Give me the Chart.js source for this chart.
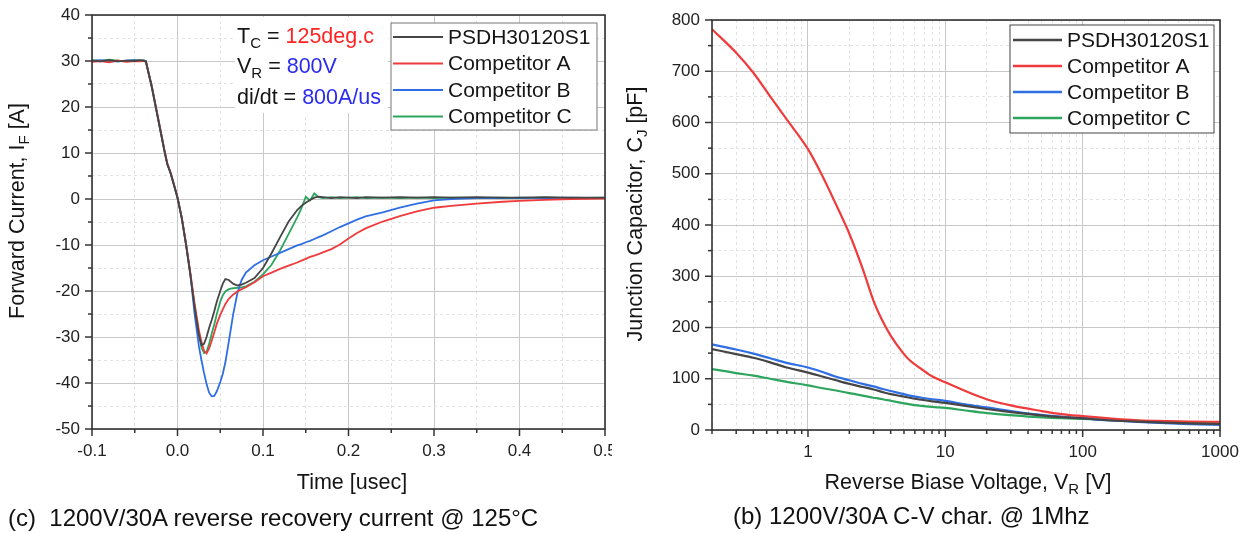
<!DOCTYPE html>
<html>
<head>
<meta charset="utf-8">
<script src="https://cdn.jsdelivr.net/npm/chart.js@4.4.1/dist/chart.umd.min.js"></script>
<style>
  html, body { margin: 0; padding: 0; background: #fff; width: 1244px; height: 533px; overflow: hidden; }
  #left { position: absolute; left: 0; top: 0; width: 612px; height: 533px; overflow: hidden; }
  #right { position: absolute; left: 612px; top: 0; width: 632px; height: 533px; overflow: hidden; }
  .cap { position: absolute; font-family: 'Liberation Sans', Arial, sans-serif; font-size: 24px;
         line-height: 28px; color: #111; white-space: pre; }
</style>
</head>
<body>
<div id="left"><canvas id="d1" width="640" height="533"></canvas></div>
<div id="right"><canvas id="d2" width="660" height="533"></canvas></div>
<div class="cap" style="left:8px; top:504px">(c)  1200V/30A reverse recovery current @ 125°C</div>
<div class="cap" style="left:733px; top:502px">(b) 1200V/30A C-V char. @ 1Mhz</div>

<script>
const FONT = "'Liberation Sans', Arial, sans-serif";

// --- reverse recovery current (left) ---
const timeUs = [-0.1, -0.09, -0.08, -0.07, -0.06, -0.05, -0.045, -0.04, -0.037, -0.03,
  -0.025, -0.02, -0.015, -0.012, -0.008, -0.004, 0, 0.005, 0.01, 0.015,
  0.02, 0.025, 0.028, 0.031, 0.034, 0.037, 0.04, 0.043, 0.046, 0.05,
  0.053, 0.056, 0.06, 0.065, 0.07, 0.075, 0.08, 0.09, 0.1, 0.11,
  0.12, 0.13, 0.14, 0.145, 0.15, 0.155, 0.16, 0.165, 0.17, 0.18,
  0.19, 0.2, 0.21, 0.22, 0.24, 0.26, 0.28, 0.3, 0.32, 0.35,
  0.38, 0.4, 0.43, 0.46, 0.5];
const irrPSDH = [30.1, 29.9, 30.2, 29.9, 30.1, 30.0, 30.2, 30.1, 29.9, 24.3,
  19.6, 14.9, 10.2, 7.6, 5.6, 3.0, 0.3, -4.2, -10.0, -16.5,
  -23.6, -29.5, -31.8, -31.5, -30.0, -28.0, -26.3, -24.4, -22.3, -20.0,
  -18.4, -17.4, -17.6, -18.4, -18.8, -18.6, -18.2, -17.2, -15.0, -11.8,
  -8.3, -4.9, -2.4, -1.5, -0.8, -0.2, 0.3, 0.5, 0.4, 0.2,
  0.4, 0.3, 0.2, 0.4, 0.3, 0.4, 0.3, 0.4, 0.3, 0.4,
  0.3, 0.3, 0.4, 0.3, 0.3];
const irrCompA = [29.8, 30.0, 29.7, 30.1, 29.8, 30.0, 29.9, 30.0, 29.8, 24.4,
  19.8, 15.1, 10.4, 7.8, 5.7, 3.1, 0.4, -4.0, -9.7, -16.0,
  -22.8, -28.5, -31.0, -33.0, -33.6, -32.5, -30.8, -29.0, -27.1, -25.2,
  -24.0, -22.8, -21.7, -20.8, -20.1, -19.6, -19.2, -18.1, -16.8, -16.0,
  -15.2, -14.5, -13.8, -13.4, -13.0, -12.6, -12.3, -12.0, -11.6, -10.9,
  -9.9, -8.6, -7.4, -6.4, -4.9, -3.7, -2.7, -1.9, -1.5, -1.0,
  -0.6, -0.4, -0.2, 0.0, 0.1];
const irrCompB = [30.0, 30.2, 30.0, 29.9, 30.1, 30.2, 30.0, 30.1, 30.0, 24.5,
  19.7, 15.0, 10.3, 7.7, 5.6, 3.0, 0.2, -4.1, -9.8, -16.2,
  -25.0, -32.0, -35.0, -37.8, -40.2, -42.1, -42.9, -42.8, -41.8, -39.8,
  -38.0, -35.5, -31.0, -25.2, -20.5, -17.6, -16.0, -14.4, -13.3, -12.5,
  -11.7, -10.9, -10.1, -9.8, -9.4, -9.1, -8.7, -8.3, -7.9, -7.0,
  -6.1, -5.3, -4.5, -3.8, -2.9, -1.9, -1.0, -0.3, 0.0, 0.2,
  0.2, 0.3, 0.2, 0.3, 0.2];
const irrCompC = [30.2, 30.0, 30.3, 30.1, 30.0, 30.2, 30.1, 30.2, 30.0, 24.2,
  19.5, 14.8, 10.1, 7.6, 5.5, 2.9, 0.2, -4.2, -9.9, -16.3,
  -23.2, -29.5, -32.3, -33.5, -33.2, -31.5, -29.3, -27.3, -25.0, -22.3,
  -20.9, -20.1, -19.6, -19.4, -19.3, -19.2, -19.0, -18.0, -16.4, -14.3,
  -11.2, -7.6, -4.0, -2.0, 0.5, -0.3, 1.2, 0.4, 0.2, 0.4,
  0.2, 0.3, 0.4, 0.2, 0.3, 0.2, 0.3, 0.2, 0.3, 0.2,
  0.3, 0.2, 0.3, 0.2, 0.3];
const timeTicks = [-0.1, 0, 0.1, 0.2, 0.3, 0.4, 0.5];
const currentTicks = [-50, -40, -30, -20, -10, 0, 10, 20, 30, 40];

// --- C-V characteristic (right) ---
const biasV = [0.2, 0.3, 0.4, 0.53, 0.7, 1, 1.25, 1.6, 2, 2.5, 3, 3.5, 4, 4.8, 5.5,
  6.7, 8, 10, 14, 20, 30, 48, 70, 100, 150, 250, 400, 600, 1000];
const capPSDH = [158, 148, 141, 132, 122, 112, 105, 97, 90, 84, 79, 74, 70, 66, 63,
  59, 56, 53, 47, 41, 35, 29, 25, 22.5, 19, 16.5, 14.5, 13, 11.7];
const capCompA = [782, 736, 697, 651, 606, 548, 500, 440, 383, 315, 252, 212, 184, 154, 136,
  119, 105, 93, 76, 60, 48, 38, 31, 27, 23, 19, 17.5, 16.5, 16];
const capCompB = [167, 157, 149, 140, 131, 122, 114, 104, 97, 90, 85, 80, 76, 71, 67,
  63, 60, 57, 50, 44, 37, 30, 26, 23, 19, 16, 13.5, 11.5, 10];
const capCompC = [119, 111, 106, 100, 94, 87, 82, 77, 72, 67, 63, 60, 57, 53, 50,
  47, 45, 43, 38, 33, 29, 25, 23, 21.5, 20, 18, 16.5, 15.5, 14.5];
const voltTicks = [1, 10, 100, 1000];
const capTicks = [0, 100, 200, 300, 400, 500, 600, 700, 800];

const seriesNames = ['PSDH30120S1', 'Competitor A', 'Competitor B', 'Competitor C'];
const seriesColors = ['#454545', '#ef3b3b', '#2f6fe3', '#2ea55c'];

Chart.defaults.font.family = FONT;
Chart.defaults.font.size = 17;
Chart.defaults.color = '#222';

// major ticks plus a minor one half way
function withMinor(majors) {
  const out = [];
  majors.forEach(function(v, i) {
    out.push({ value: v, major: true });
    if (i < majors.length - 1) out.push({ value: (v + majors[i + 1]) / 2, major: false });
  });
  return out;
}

function logTicks(decades, min, max) {
  const out = [];
  [decades[0] / 10].concat(decades).forEach(function(d) {
    for (let k = 1; k < 10; k++) {
      const v = +(d * k).toPrecision(3);
      if (v >= min - 1e-9 && v <= max + 1e-9) out.push({ value: v, major: k === 1 });
    }
  });
  return out;
}

const gridOpts = {
  color: function(c) { return c.tick && c.tick.major ? '#c8c8c8' : '#e2e2e2'; },
  lineWidth: 1,
  drawTicks: false
};
const borderOpts = {
  display: false,
  dash: function(c) { return c.tick && !c.tick.major ? [3, 3] : []; }
};

function drawRich(ctx, parts, x, y, size, align, rotate) {
  const sub = Math.round(size * 0.68);
  const widths = parts.map(function(p) {
    ctx.font = (p.sub ? sub : size) + 'px ' + FONT;
    return ctx.measureText(p.text).width;
  });
  const total = widths.reduce(function(s, w) { return s + w; }, 0);
  ctx.save();
  ctx.translate(x, y);
  if (rotate) ctx.rotate(-Math.PI / 2);
  let cx = align === 'center' ? -total / 2 : 0;
  ctx.textBaseline = 'middle';
  ctx.textAlign = 'left';
  parts.forEach(function(p, i) {
    ctx.font = (p.sub ? sub : size) + 'px ' + FONT;
    ctx.fillStyle = p.color || '#151515';
    ctx.fillText(p.text, cx, p.sub ? size * 0.33 : 0);
    cx += widths[i];
  });
  ctx.restore();
}

// notes, legend, frame, tick marks and axis titles
const decorPlugin = {
  id: 'decor',
  afterDraw: function(chart, args, opts) {
    const ctx = chart.ctx;
    const a = chart.chartArea;
    ctx.save();

    if (opts.notes) {
      const n = opts.notes;
      ctx.fillStyle = '#fff';
      ctx.fillRect(n.box[0], n.box[1], n.box[2] - n.box[0], n.box[3] - n.box[1]);
      n.rows.forEach(function(r, i) { drawRich(ctx, r, n.x, n.y[i], 21.5, 'left', false); });
    }

    const lg = opts.legend;
    ctx.fillStyle = '#fff';
    ctx.fillRect(lg.box[0], lg.box[1], lg.box[2] - lg.box[0], lg.box[3] - lg.box[1]);
    ctx.strokeStyle = lg.border;
    ctx.lineWidth = 1;
    ctx.strokeRect(lg.box[0], lg.box[1], lg.box[2] - lg.box[0], lg.box[3] - lg.box[1]);
    chart.data.datasets.forEach(function(ds, i) {
      const y = lg.rows[i];
      ctx.beginPath();
      ctx.moveTo(lg.lineX[0], y);
      ctx.lineTo(lg.lineX[1], y);
      ctx.strokeStyle = ds.borderColor;
      ctx.lineWidth = lg.lineWidth;
      ctx.stroke();
      ctx.font = '21px ' + FONT;
      ctx.fillStyle = '#151515';
      ctx.textBaseline = 'middle';
      ctx.textAlign = 'left';
      ctx.fillText(ds.label, lg.textX, y + 1);
    });

    ctx.strokeStyle = '#333';
    ctx.lineWidth = 1.5;
    ['x', 'y'].forEach(function(id) {
      const s = chart.scales[id];
      s.ticks.forEach(function(t) {
        const p = s.getPixelForValue(t.value);
        const len = t.major ? 7 : 4;
        ctx.beginPath();
        if (id === 'x') { ctx.moveTo(p, a.bottom); ctx.lineTo(p, a.bottom + len); }
        else { ctx.moveTo(a.left, p); ctx.lineTo(a.left - len, p); }
        ctx.stroke();
      });
    });
    ctx.lineWidth = 1.6;
    ctx.strokeRect(a.left, a.top, a.right - a.left, a.bottom - a.top);

    drawRich(ctx, opts.yTitle.parts, opts.yTitle.x, opts.yTitle.y, 21.5, 'center', true);
    drawRich(ctx, opts.xTitle.parts, opts.xTitle.x, opts.xTitle.y, 21.5, 'center', false);
    ctx.restore();
  }
};

function lineSets(xs, list, width) {
  return list.map(function(vals, i) {
    return {
      label: seriesNames[i],
      data: xs.map(function(x, j) { return { x: x, y: vals[j] }; }),
      borderColor: seriesColors[i],
      borderWidth: width,
      pointRadius: 0,
      fill: false
    };
  });
}

// small line height keeps the top label from pushing the plot area down
const yTickFont = { size: 17, lineHeight: 0.3 };

var config1 = {
  type: 'line',
  data: { datasets: lineSets(timeUs, [irrPSDH, irrCompA, irrCompB, irrCompC], 1.8) },
  options: {
    responsive: false,
    animation: false,
    events: [],
    layout: { padding: { left: 0, right: 35, top: 15, bottom: 0 } },
    plugins: {
      legend: { display: false },
      tooltip: { enabled: false },
      decor: {
        legend: { box: [391, 23, 597, 130], lineX: [393, 443], textX: 448,
                  rows: [37, 63.5, 90, 116.5], lineWidth: 1.8, border: '#777' },
        notes: {
          box: [235, 17, 388, 113], x: 237, y: [37, 67, 98],
          rows: [
            [{ text: 'T' }, { text: 'C', sub: true }, { text: ' = ' }, { text: '125deg.c', color: '#ff2424' }],
            [{ text: 'V' }, { text: 'R', sub: true }, { text: ' = ' }, { text: '800V', color: '#2a2af0' }],
            [{ text: 'di/dt = ' }, { text: '800A/us', color: '#2a2af0' }]
          ]
        },
        yTitle: { parts: [{ text: 'Forward Current, I' }, { text: 'F', sub: true }, { text: ' [A]' }], x: 18, y: 211 },
        xTitle: { parts: [{ text: 'Time [usec]' }], x: 352, y: 483 }
      }
    },
    scales: {
      x: {
        type: 'linear', min: -0.1, max: 0.5,
        afterBuildTicks: function(s) { s.ticks = withMinor(timeTicks); },
        afterFit: function(s) { s.height = 104; },
        grid: gridOpts, border: borderOpts,
        ticks: {
          autoSkip: false, maxRotation: 0, padding: 12,
          callback: function(v, i, t) { return t[i].major ? v.toFixed(1) : ''; }
        }
      },
      y: {
        type: 'linear', min: -50, max: 40,
        afterBuildTicks: function(s) { s.ticks = withMinor(currentTicks); },
        afterFit: function(s) { s.width = 92; },
        grid: gridOpts, border: borderOpts,
        ticks: {
          autoSkip: false, padding: 12, font: yTickFont,
          callback: function(v, i, t) { return t[i].major ? String(v) : ''; }
        }
      }
    }
  },
  plugins: [decorPlugin]
};

var config2 = {
  type: 'line',
  data: { datasets: lineSets(biasV, [capPSDH, capCompA, capCompB, capCompC], 2.2) },
  options: {
    responsive: false,
    animation: false,
    events: [],
    layout: { padding: { left: 0, right: 52, top: 20, bottom: 0 } },
    elements: { line: { cubicInterpolationMode: 'monotone' } },
    plugins: {
      legend: { display: false },
      tooltip: { enabled: false },
      decor: {
        legend: { box: [398, 25, 602, 133], lineX: [401, 450], textX: 455,
                  rows: [40, 66, 92, 118], lineWidth: 2.6, border: '#444' },
        yTitle: { parts: [{ text: 'Junction Capacitor, C' }, { text: 'J', sub: true }, { text: ' [pF]' }], x: 24, y: 214 },
        xTitle: { parts: [{ text: 'Reverse Biase Voltage, V' }, { text: 'R', sub: true }, { text: ' [V]' }], x: 356, y: 483 }
      }
    },
    scales: {
      x: {
        type: 'logarithmic', min: 0.2, max: 1000,
        afterBuildTicks: function(s) { s.ticks = logTicks(voltTicks, 0.2, 1000); },
        afterFit: function(s) { s.height = 103; },
        grid: gridOpts, border: borderOpts,
        ticks: {
          autoSkip: false, maxRotation: 0, padding: 12,
          callback: function(v, i, t) { return t[i].major ? String(v) : ''; }
        }
      },
      y: {
        type: 'linear', min: 0, max: 800,
        afterBuildTicks: function(s) { s.ticks = withMinor(capTicks); },
        afterFit: function(s) { s.width = 100; },
        grid: gridOpts, border: borderOpts,
        ticks: {
          autoSkip: false, padding: 12, font: yTickFont,
          callback: function(v, i, t) { return t[i].major ? String(v) : ''; }
        }
      }
    }
  },
  plugins: [decorPlugin]
};

var chart1 = new Chart(document.getElementById('d1'), config1);
var chart2 = new Chart(document.getElementById('d2'), config2);
</script>
</body>
</html>
